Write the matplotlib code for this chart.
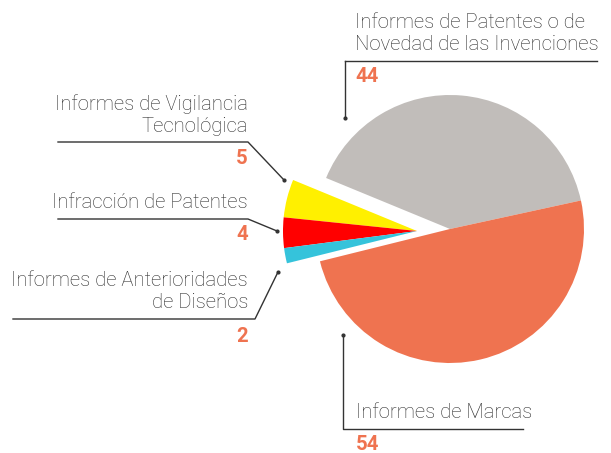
import matplotlib.pyplot as plt

# datos
labels = ['Informes de Patentes o de\nNovedad de las Invenciones',
          'Informes de Vigilancia\nTecnológica',
          'Infracción de Patentes',
          'Informes de Anterioridades\nde Diseños',
          'Informes de Marcas']
values = [44, 5, 4, 2, 54]
colors = ['#C1BDBA', '#FFF000', '#FF0000', '#35C3DB', '#EF7350']

H = 453
fig = plt.figure(figsize=(6.11, 4.53), dpi=100)
ax = fig.add_axes([0, 0, 1, 1])

cx, cy, r = 450, H - 229, 134
wedges, _ = ax.pie(values, colors=colors, startangle=12.3, counterclock=True,
                   center=(cx, cy), radius=r, frame=True,
                   wedgeprops=dict(linewidth=0))
ax.set_xlim(0, 611)
ax.set_ylim(0, H)
ax.set_aspect('equal')
ax.axis('off')

# las porciones pequeñas se desplazan juntas hacia la izquierda
for w in wedges[1:4]:
    w.set_center((cx - 33, cy - 2))

txt = dict(family='Roboto', weight='light', fontsize=14.6, color='#2b2b2b')
num = dict(family='Roboto', weight='bold', fontsize=14.6, color='#EF7350')
lc = '#333333'

def y(p):
    return H - p

# Patentes
ax.text(355, y(34), labels[0], ha='left', va='center', linespacing=1.2, **txt)
ax.plot([345, 597], [y(61), y(61)], color=lc, lw=1)
ax.plot([345, 345], [y(61), y(118)], color=lc, lw=1)
ax.plot(345, y(118), 'o', color=lc, ms=2)
ax.text(355, y(77), str(values[0]), ha='left', va='center', **num)

# Vigilancia
ax.text(248, y(115), labels[1], ha='right', va='center', linespacing=1.2, **txt)
ax.plot([58, 248, 284], [y(142), y(142), y(180)], color=lc, lw=1)
ax.plot(284, y(180), 'o', color=lc, ms=2)
ax.text(248, y(159), str(values[1]), ha='right', va='center', **num)

# Infracción
ax.text(248, y(203), labels[2], ha='right', va='center', **txt)
ax.plot([58, 248, 277], [y(219), y(219), y(231)], color=lc, lw=1)
ax.plot(277, y(231), 'o', color=lc, ms=2)
ax.text(248, y(235), str(values[2]), ha='right', va='center', **num)

# Anterioridades
ax.text(248, y(291), labels[3], ha='right', va='center', linespacing=1.2, **txt)
ax.plot([13, 255, 278], [y(319), y(319), y(272)], color=lc, lw=1)
ax.plot(278, y(272), 'o', color=lc, ms=2)
ax.text(248, y(337), str(values[3]), ha='right', va='center', **num)

# Marcas
ax.text(356, y(413), labels[4], ha='left', va='center', **txt)
ax.plot([343, 343, 523], [y(335), y(429), y(429)], color=lc, lw=1)
ax.plot(343, y(335), 'o', color=lc, ms=2)
ax.text(356, y(445), str(values[4]), ha='left', va='center', **num)

fig.savefig('out.png', dpi=100)
